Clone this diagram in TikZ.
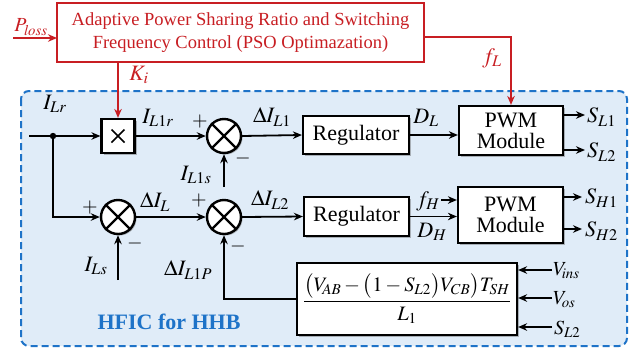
\documentclass[tikz,border=0pt]{standalone}
\usepackage{amsmath}
\usepackage{mathptmx}
\usepackage{fontspec}
\setmainfont{Liberation Serif}
\newfontfamily\tnr{Liberation Serif}
\usetikzlibrary{arrows.meta,shadows,calc}
\definecolor{myred}{RGB}{200,30,35}
\definecolor{myblue}{RGB}{30,115,200}
\definecolor{myfill}{RGB}{224,236,248}
\begin{document}
\begin{tikzpicture}[x=1pt,y=-1pt,
  every node/.style={font=\tnr\fontsize{22}{21}\selectfont, inner sep=0pt},
  blk/.style={draw, line width=2.2, fill=white, align=center,
    drop shadow={shadow xshift=2pt, shadow yshift=-2pt, fill=black!60, opacity=0.45}},
  sumj/.style={draw, circle, line width=2.4, fill=white, minimum size=34pt,
    drop shadow={shadow xshift=1.5pt, shadow yshift=-1.5pt, fill=black!60, opacity=0.45}},
  arr/.style={-{Stealth[length=9pt,width=7.5pt]}, line width=1.8},
  lbl/.style={font=\fontsize{22}{22}\selectfont},
  slbl/.style={font=\fontsize{20}{20}\selectfont},
  sg/.style={font=\fontsize{20}{20}\selectfont}
]
\useasboundingbox (0,0) rectangle (642,354);
% blue region
\draw[myblue, fill=myfill, line width=2, dash pattern=on 7pt off 4pt, rounded corners=8]
  (21,91) rectangle (627,346);
% red box
\node[draw=myred, line width=2, text=myred, minimum width=367pt, minimum height=59pt, align=center,
  font=\tnr\fontsize{18.5}{23}\selectfont, fill=white] (opt) at (240.5,32.5)
  {Adaptive Power Sharing Ratio and Switching\\Frequency Control (PSO Optimazation)};
\coordinate (pl) at (13,38);
\coordinate (plend) at (57,38);
\coordinate (fls) at (424,37);
\draw[arr, myred] (pl) -- (plend);
\node[myred, slbl] (plbl) at (31,27) {$P_{\mathit{loss}}$};
% nodes
\node[blk, minimum width=33pt, minimum height=34pt] (mult) at (118,136) {};
\draw[line width=1.5] ($(mult.center)+(-6.5,-6.5)$) -- ($(mult.center)+(6.5,6.5)$)
  ($(mult.center)+(-6.5,6.5)$) -- ($(mult.center)+(6.5,-6.5)$);
\node[sumj] (s1) at (224,136) {};
\node[sumj] (s2) at (118,217) {};
\node[sumj] (s3) at (224,217) {};
\foreach \s in {s1,s2,s3}{
  \draw[line width=2.2] (\s.north west) -- (\s.south east) (\s.north east) -- (\s.south west);
}
\node[blk, minimum width=106pt, minimum height=38pt] (reg1) at (356,135) {Regulator};
\node[blk, minimum width=105pt, minimum height=39pt] (reg2) at (356.5,216.5) {Regulator};
\node[blk, minimum width=104pt, minimum height=49pt] (pwm1) at (511,130.5) {PWM\\Module};
\node[blk, minimum width=105pt, minimum height=56pt] (pwm2) at (510.5,215) {PWM\\Module};
\node[blk, minimum width=220pt, minimum height=72pt, font=\fontsize{20.5}{21}\selectfont] (form) at (407,299)
  {$\dfrac{\bigl(V_{\!AB}-\bigl(1-S_{L2}\bigr)V_{CB}\bigr)T_{SH}}{L_1}$};
% red connections
\draw[arr, myred] (opt.south -| mult.north) -- (mult.north);
\node[myred, lbl] (ki) at (139,75) {$K_i$};
\draw[arr, myred] (fls) -| (pwm1.north);
\node[myred, lbl] (fl) at (492,58) {$f_L$};
% top row
\coordinate (in) at (29,136);
\coordinate (dot) at (53,136);
\draw[arr] (in) -- (mult.west);
\fill (dot) circle (3.2pt);
\node[lbl] (ilr) at (55,104) {$I_{Lr}$};
\draw[arr] (mult.east) -- (s1.west);
\node[lbl] (il1r) at (158,118) {$I_{L1r}$};
\node[sg] (p1) at (200,121) {$+$};
\node[sg] (m1) at (243,158) {$-$};
\draw[arr] (s1.east) -- (reg1.west);
\node[lbl] (dil1) at (272,117) {$\Delta I_{L1}$};
\draw[arr] (reg1.east) -- (reg1.east -| pwm1.west);
\node[lbl] (dl) at (426,118) {$D_L$};
\coordinate (sl1e) at (585,115);
\coordinate (sl2e) at (585,150);
\draw[arr] (pwm1.east |- sl1e) -- (sl1e);
\draw[arr] (pwm1.east |- sl2e) -- (sl2e);
\node[lbl, anchor=west] (sl1) at (587,117) {$S_{L1}$};
\node[lbl, anchor=west] (sl2) at (587,152) {$S_{L2}$};
% I_L1s
\coordinate (il1sb) at (224,187);
\draw[arr] (il1sb) -- (s1.south);
\node[lbl] (il1s) at (196,175) {$I_{L1s}$};
% bottom row
\draw[arr] (dot) |- (s2.west);
\node[sg] (p2) at (90,207) {$+$};
\node[sg] (m2) at (135,243) {$-$};
\draw[arr] (s2.east) -- (s3.west);
\node[lbl] (dil) at (155,202) {$\Delta I_{L}$};
\node[sg] (p3) at (199,200) {$+$};
\node[sg] (m3) at (238,246) {$-$};
\coordinate (ilsb) at (118,280);
\draw[arr] (ilsb) -- (s2.south);
\node[lbl] (ils) at (96,266) {$I_{Ls}$};
\draw[arr] (s3.east) -- (reg2.west);
\node[lbl] (dil2) at (270,200) {$\Delta I_{L2}$};
\coordinate (fhs) at (441,200);
\draw[arr] (fhs) -- (fhs -| pwm2.west);
\node[lbl] (fh) at (428,201) {$f_H$};
\draw[arr] (reg2.east) -- (reg2.east -| pwm2.west);
\node[lbl] (dh) at (432,232) {$D_H$};
\coordinate (sh1e) at (582,197);
\coordinate (sh2e) at (582,229);
\draw[arr] (pwm2.east |- sh1e) -- (sh1e);
\draw[arr] (pwm2.east |- sh2e) -- (sh2e);
\node[lbl, anchor=west] (sh1) at (585,198) {$S_{H1}$};
\node[lbl, anchor=west] (sh2) at (585,231) {$S_{H2}$};
% feedback
\draw[arr] (form.west) -| (s3.south);
\node[lbl] (dil1p) at (188,270) {$\Delta I_{L1P}$};
% formula inputs
\coordinate (vi) at (552,270);
\coordinate (vo) at (552,298);
\coordinate (vs) at (552,327);
\draw[arr] (vi) -- (vi -| form.east);
\draw[arr] (vo) -- (vo -| form.east);
\draw[arr] (vs) -- (vs -| form.east);
\node[slbl, anchor=west] (vil) at (553,271) {$V_{\!\mathit{ins}}$};
\node[slbl, anchor=west] (vol) at (553,300) {$V_{\!\mathit{os}}$};
\node[slbl, anchor=west] (vsl) at (554,329) {$S_{L2}$};
% title
\node[text=myblue, font=\tnr\fontsize{22}{22}\selectfont\bfseries] (hfic) at (169,322) {HFIC for HHB};
\end{tikzpicture}
\end{document}
